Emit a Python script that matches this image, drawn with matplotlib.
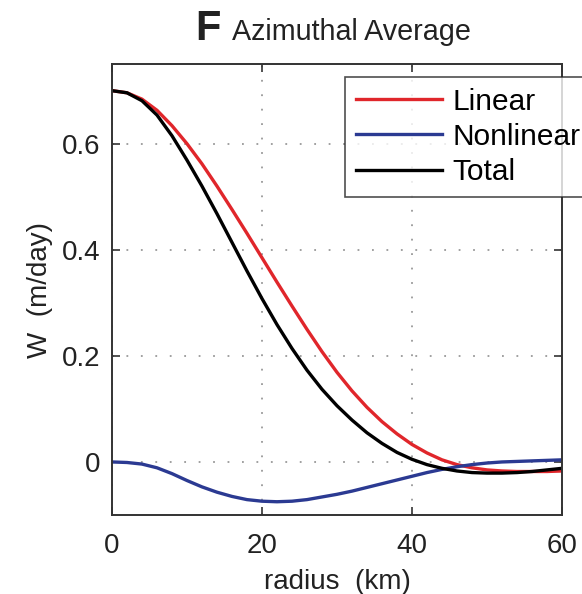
import numpy as np
import matplotlib
matplotlib.use("Agg")
import matplotlib.pyplot as plt

plt.rcParams['font.family'] = ['Liberation Sans', 'DejaVu Sans']

# radius (km) and azimuthally averaged W (m/day)
radius = [0, 2, 4, 6, 8, 10, 12, 14, 16, 18, 20, 22, 24, 26, 28, 30,
          32, 34, 36, 38, 40, 42, 44, 46, 48, 50, 52, 54, 56, 58, 60]
linear = [0.700, 0.696, 0.684, 0.663, 0.634, 0.600, 0.562, 0.520, 0.476, 0.431,
          0.385, 0.339, 0.294, 0.250, 0.208, 0.169, 0.134, 0.103, 0.076, 0.053,
          0.033, 0.017, 0.004, -0.005, -0.011, -0.015, -0.017, -0.018, -0.018,
          -0.018, -0.017]
nonlinear = [0.000, -0.001, -0.004, -0.011, -0.022, -0.035, -0.047, -0.057, -0.065,
             -0.071, -0.074, -0.075, -0.074, -0.071, -0.066, -0.061, -0.055, -0.048,
             -0.041, -0.034, -0.027, -0.020, -0.014, -0.009, -0.005, -0.002, 0.000,
             0.001, 0.002, 0.003, 0.004]
total = [0.700, 0.696, 0.681, 0.654, 0.615, 0.569, 0.520, 0.468, 0.414, 0.360,
         0.308, 0.259, 0.214, 0.173, 0.137, 0.106, 0.079, 0.055, 0.035, 0.018,
         0.005, -0.005, -0.012, -0.017, -0.020, -0.021, -0.021, -0.020, -0.018,
         -0.015, -0.012]

fig = plt.figure(figsize=(5.82, 5.94), dpi=100)
ax = fig.add_axes([0.1924, 0.133, 0.7732, 0.759])

ax.plot(radius, linear, color='#e0262b', lw=2.4, label='Linear')
ax.plot(radius, nonlinear, color='#2b3a92', lw=2.4, label='Nonlinear')
ax.plot(radius, total, color='black', lw=2.4, label='Total')

ax.set_xlim(0, 60)
ax.set_ylim(-0.1, 0.75)
ax.set_xticks([0, 20, 40, 60])
ax.set_yticks([0, 0.2, 0.4, 0.6])
ax.set_yticklabels(['0', '0.2', '0.4', '0.6'])
ax.tick_params(direction='in', length=6, width=1.2, top=True, right=True,
               labelsize=20, colors='#333333', labelcolor='#222222')
ax.tick_params(axis='x', pad=13)
ax.tick_params(axis='y', pad=8)
ax.grid(True, linestyle=(0, (1, 7)), color='#999999', lw=1.3)
for s in ax.spines.values():
    s.set_color('#333333')
    s.set_linewidth(1.4)

ax.set_xlabel('radius  (km)', fontsize=20, color='#222222', labelpad=7)
ax.set_ylabel('W  (m/day)', fontsize=20, color='#222222', labelpad=7)

fig.text(0.336, 0.933, 'F', fontsize=30, fontweight='bold', color='#222222', va='baseline')
fig.text(0.398, 0.933, 'Azimuthal Average', fontsize=20.7, color='#222222', va='baseline')

leg = ax.legend(loc='upper left', bbox_to_anchor=(345 / 582, 1 - 77 / 594),
                bbox_transform=fig.transFigure, fontsize=21.5, frameon=True,
                fancybox=False, edgecolor='#222222', handlelength=2.9,
                handletextpad=0.33, labelspacing=0.24, borderpad=0.36,
                borderaxespad=0)
leg.get_frame().set_linewidth(1.2)

fig.savefig('out.png', dpi=100)
